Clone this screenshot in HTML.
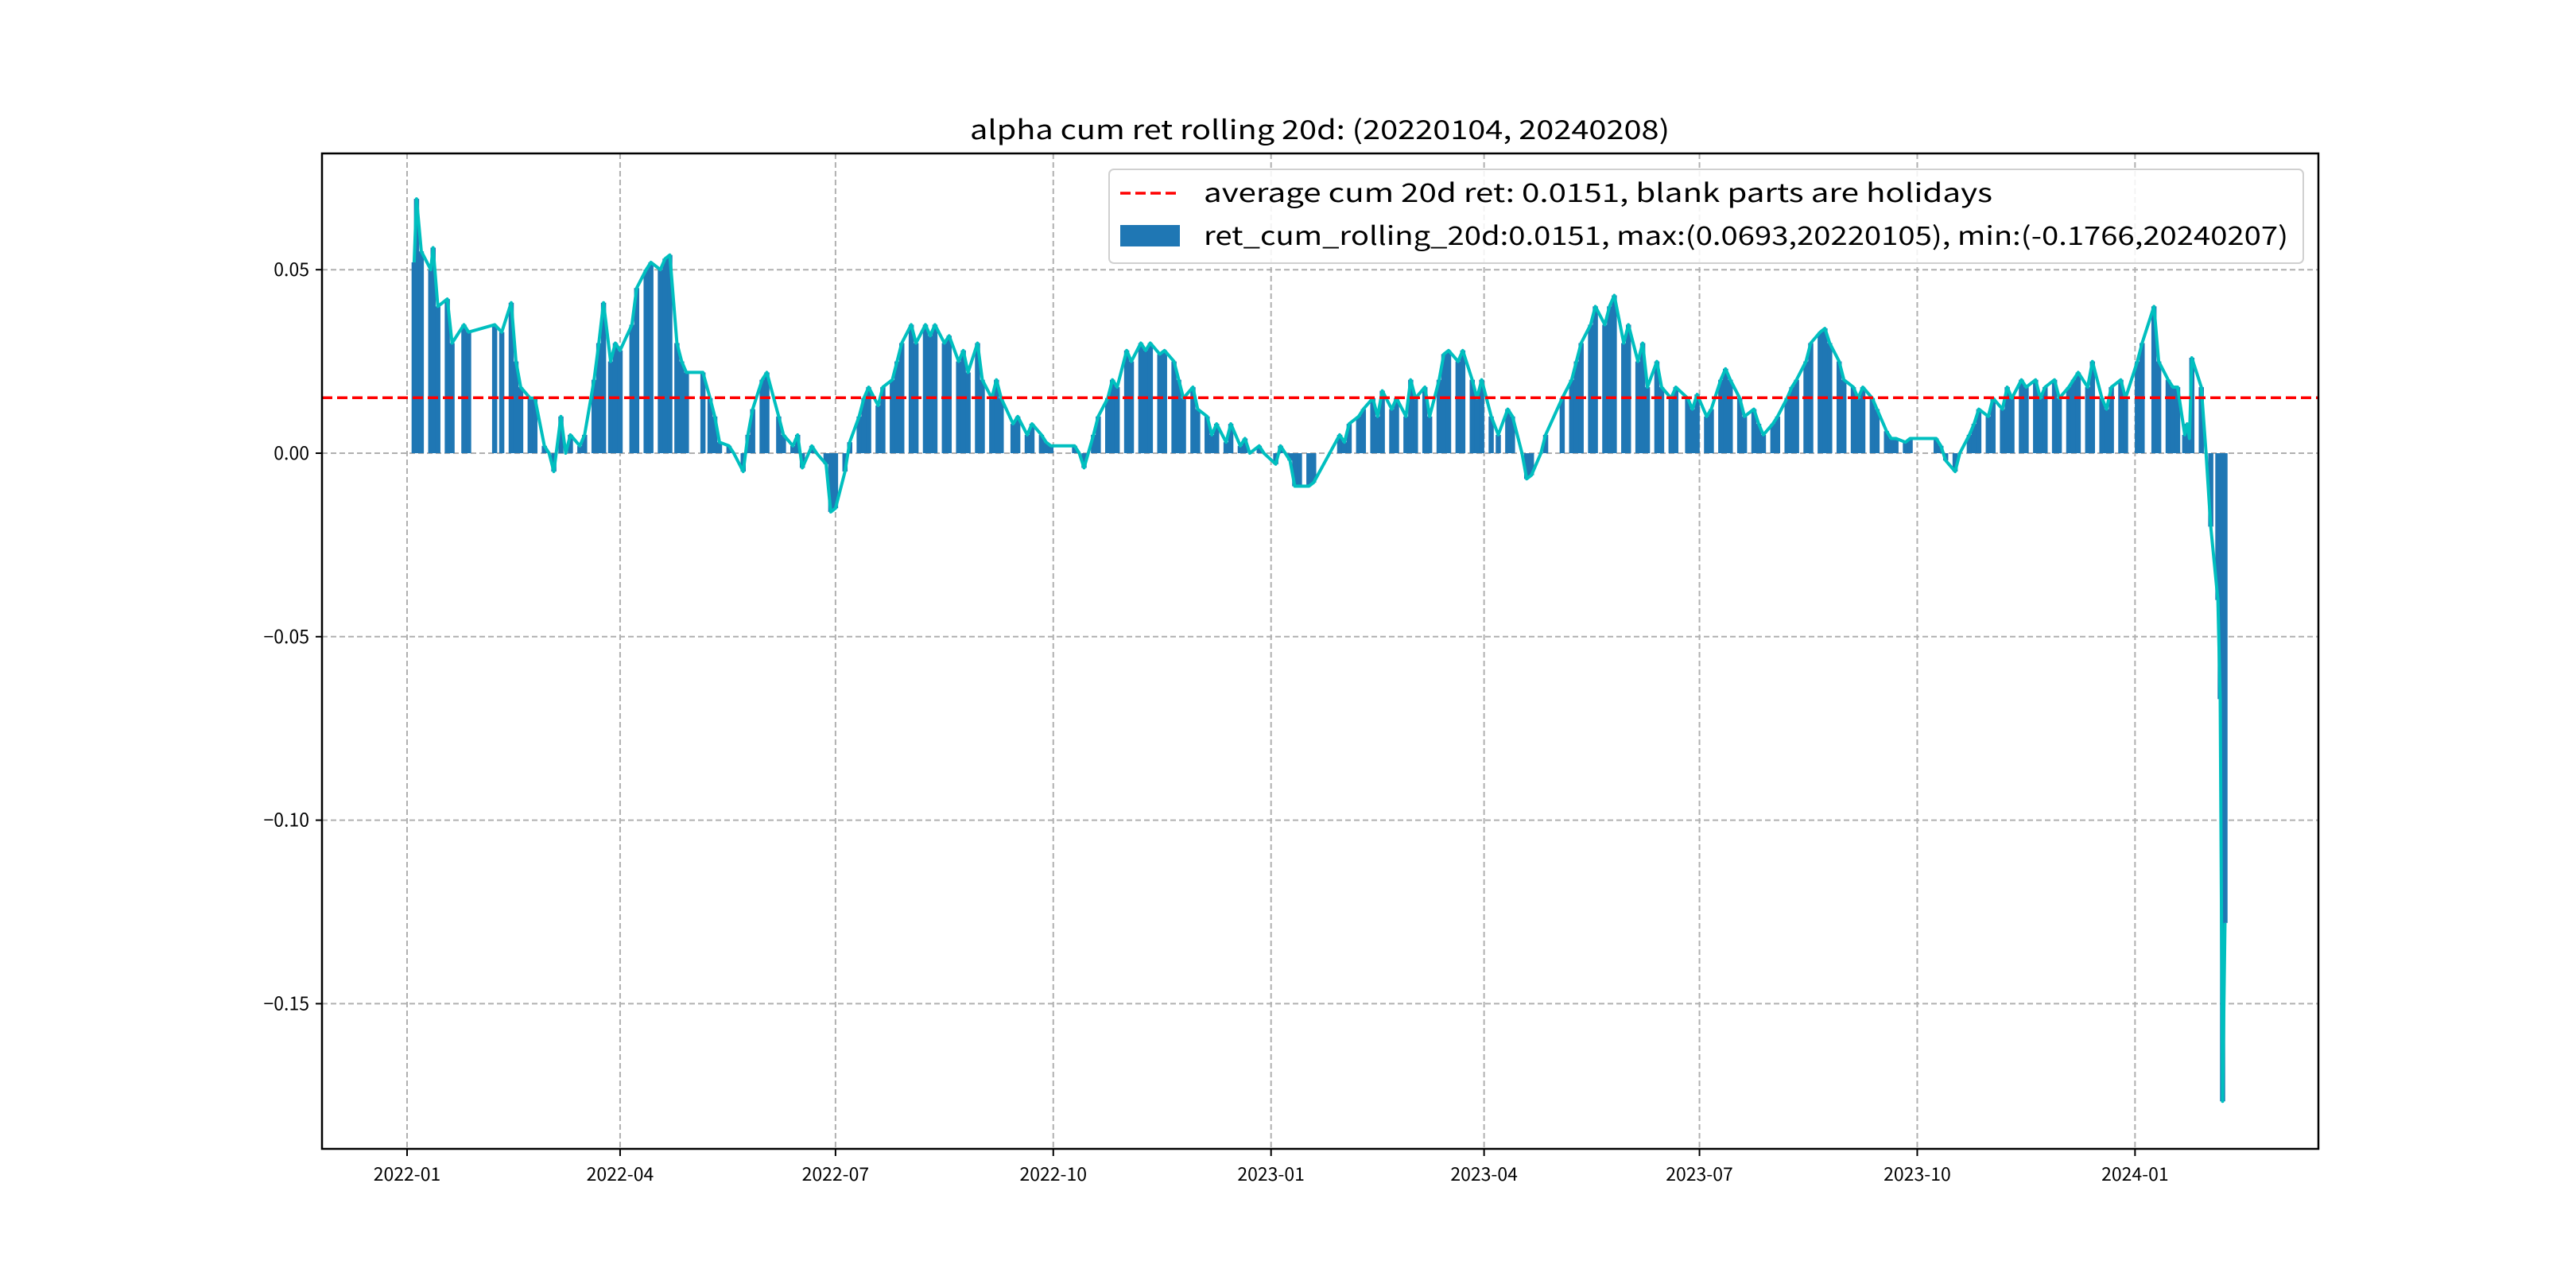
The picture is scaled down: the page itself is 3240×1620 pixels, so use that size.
<!DOCTYPE html>
<html><head><meta charset="utf-8"><style>
html,body{margin:0;padding:0;background:#fff}
svg{display:block}
text{font-family:"WenQuanYi Zen Hei","Noto Sans CJK SC","Liberation Sans",sans-serif;fill:#000}
</style></head><body>
<svg id="chart" width="3240" height="1620" viewBox="0 0 3240 1620" xmlns="http://www.w3.org/2000/svg">
<rect width="3240" height="1620" fill="#fff"/>
<text x="1220" y="175" font-size="33" textLength="880" lengthAdjust="spacingAndGlyphs">alpha cum ret rolling 20d: (20220104, 20240208)</text>
<g id="grid"></g>
<g id="bars"></g>
<g id="lines"></g>
<rect x="405" y="193" width="2511" height="1252" fill="none" stroke="#000" stroke-width="2.5"/>
<g id="ticks"></g>
<g>
<rect x="1395" y="213" width="1502" height="118" rx="6" fill="#fff" fill-opacity="0.85" stroke="#d0d0d0" stroke-width="2"/>
<line x1="1409" y1="243" x2="1484" y2="243" stroke="#ff0000" stroke-width="3.5" stroke-dasharray="13,6"/>
<text x="1514" y="254" font-size="32" textLength="992" lengthAdjust="spacingAndGlyphs">average cum 20d ret: 0.0151, blank parts are holidays</text>
<rect x="1409" y="283" width="75" height="27" fill="#1f77b4"/>
<text x="1514" y="308" font-size="32" textLength="1364" lengthAdjust="spacingAndGlyphs">ret_cum_rolling_20d:0.0151, max:(0.0693,20220105), min:(-0.1766,20240207)</text>
</g>
</svg>
<script>
const dates = ["2022-01-04","2022-01-05","2022-01-07","2022-01-11","2022-01-12","2022-01-14","2022-01-18","2022-01-20","2022-01-25","2022-01-27","2022-02-07","2022-02-10","2022-02-14","2022-02-16","2022-02-18","2022-02-22","2022-02-24","2022-02-28","2022-03-02","2022-03-04","2022-03-07","2022-03-09","2022-03-11","2022-03-15","2022-03-17","2022-03-21","2022-03-23","2022-03-25","2022-03-28","2022-03-30","2022-04-01","2022-04-06","2022-04-08","2022-04-12","2022-04-14","2022-04-18","2022-04-20","2022-04-22","2022-04-25","2022-04-27","2022-04-29","2022-05-06","2022-05-09","2022-05-11","2022-05-13","2022-05-17","2022-05-19","2022-05-23","2022-05-25","2022-05-27","2022-05-31","2022-06-02","2022-06-07","2022-06-09","2022-06-13","2022-06-15","2022-06-17","2022-06-21","2022-06-23","2022-06-27","2022-06-29","2022-07-01","2022-07-05","2022-07-07","2022-07-11","2022-07-13","2022-07-15","2022-07-19","2022-07-21","2022-07-25","2022-07-27","2022-07-29","2022-08-02","2022-08-04","2022-08-08","2022-08-10","2022-08-12","2022-08-16","2022-08-18","2022-08-22","2022-08-24","2022-08-26","2022-08-30","2022-09-01","2022-09-05","2022-09-07","2022-09-09","2022-09-14","2022-09-16","2022-09-20","2022-09-22","2022-09-26","2022-09-28","2022-09-30","2022-10-10","2022-10-12","2022-10-14","2022-10-18","2022-10-20","2022-10-24","2022-10-26","2022-10-28","2022-11-01","2022-11-03","2022-11-07","2022-11-09","2022-11-11","2022-11-15","2022-11-17","2022-11-21","2022-11-23","2022-11-25","2022-11-29","2022-12-01","2022-12-05","2022-12-07","2022-12-09","2022-12-13","2022-12-15","2022-12-19","2022-12-21","2022-12-23","2022-12-27","2022-12-29","2023-01-03","2023-01-05","2023-01-09","2023-01-11","2023-01-13","2023-01-17","2023-01-19","2023-01-30","2023-02-01","2023-02-03","2023-02-07","2023-02-09","2023-02-13","2023-02-15","2023-02-17","2023-02-21","2023-02-23","2023-02-27","2023-03-01","2023-03-03","2023-03-07","2023-03-09","2023-03-13","2023-03-15","2023-03-17","2023-03-21","2023-03-23","2023-03-27","2023-03-29","2023-03-31","2023-04-04","2023-04-07","2023-04-11","2023-04-13","2023-04-17","2023-04-19","2023-04-21","2023-04-25","2023-04-27","2023-05-04","2023-05-08","2023-05-10","2023-05-12","2023-05-16","2023-05-18","2023-05-22","2023-05-24","2023-05-26","2023-05-30","2023-06-01","2023-06-05","2023-06-07","2023-06-09","2023-06-13","2023-06-15","2023-06-19","2023-06-21","2023-06-26","2023-06-28","2023-06-30","2023-07-04","2023-07-06","2023-07-10","2023-07-12","2023-07-14","2023-07-18","2023-07-20","2023-07-24","2023-07-26","2023-07-28","2023-08-01","2023-08-03","2023-08-07","2023-08-09","2023-08-11","2023-08-15","2023-08-17","2023-08-21","2023-08-23","2023-08-25","2023-08-29","2023-08-31","2023-09-04","2023-09-06","2023-09-08","2023-09-12","2023-09-14","2023-09-18","2023-09-20","2023-09-22","2023-09-26","2023-09-28","2023-10-09","2023-10-11","2023-10-13","2023-10-17","2023-10-19","2023-10-23","2023-10-25","2023-10-27","2023-10-31","2023-11-02","2023-11-06","2023-11-08","2023-11-10","2023-11-14","2023-11-16","2023-11-20","2023-11-22","2023-11-24","2023-11-28","2023-11-30","2023-12-04","2023-12-06","2023-12-08","2023-12-12","2023-12-14","2023-12-18","2023-12-20","2023-12-22","2023-12-26","2023-12-28","2024-01-02","2024-01-04","2024-01-09","2024-01-11","2024-01-15","2024-01-17","2024-01-19","2024-01-22","2024-01-23","2024-01-24","2024-01-25","2024-01-29","2024-01-31","2024-02-02","2024-02-05","2024-02-06","2024-02-07","2024-02-08"];
const values = [0.052,0.0693,0.055,0.050,0.056,0.040,0.042,0.030,0.035,0.033,0.035,0.033,0.041,0.025,0.018,0.015,0.015,0.002,0.000,-0.005,0.010,0.000,0.005,0.002,0.005,0.020,0.030,0.041,0.025,0.030,0.028,0.035,0.045,0.050,0.052,0.050,0.053,0.054,0.030,0.025,0.022,0.022,0.015,0.010,0.003,0.002,0.000,-0.005,0.005,0.012,0.020,0.022,0.010,0.005,0.002,0.005,-0.004,0.002,0.000,-0.003,-0.016,-0.015,-0.005,0.003,0.010,0.015,0.018,0.013,0.018,0.020,0.025,0.030,0.035,0.030,0.035,0.032,0.035,0.030,0.032,0.025,0.028,0.022,0.030,0.020,0.015,0.020,0.015,0.008,0.010,0.005,0.008,0.005,0.003,0.002,0.002,0.000,-0.004,0.005,0.010,0.015,0.020,0.018,0.028,0.025,0.030,0.028,0.030,0.027,0.028,0.025,0.020,0.015,0.018,0.012,0.010,0.005,0.008,0.003,0.008,0.002,0.004,0.000,0.002,0.000,-0.003,0.002,-0.002,-0.009,-0.009,-0.009,-0.008,0.005,0.003,0.008,0.010,0.012,0.015,0.010,0.017,0.012,0.015,0.010,0.020,0.015,0.018,0.010,0.020,0.027,0.028,0.025,0.028,0.020,0.015,0.020,0.010,0.005,0.012,0.010,0.000,-0.007,-0.006,0.000,0.005,0.015,0.020,0.025,0.030,0.035,0.040,0.035,0.040,0.043,0.030,0.035,0.025,0.030,0.018,0.025,0.018,0.015,0.018,0.015,0.012,0.016,0.010,0.012,0.020,0.023,0.020,0.015,0.010,0.012,0.008,0.005,0.008,0.010,0.015,0.018,0.020,0.025,0.030,0.033,0.034,0.030,0.025,0.020,0.018,0.015,0.018,0.015,0.012,0.006,0.004,0.004,0.003,0.004,0.004,0.002,-0.002,-0.005,0.000,0.005,0.008,0.012,0.010,0.015,0.012,0.018,0.015,0.020,0.018,0.020,0.015,0.018,0.020,0.015,0.018,0.020,0.022,0.018,0.025,0.015,0.012,0.018,0.020,0.015,0.025,0.030,0.040,0.025,0.020,0.018,0.018,0.005,0.008,0.004,0.026,0.018,0.000,-0.020,-0.040,-0.067,-0.1766,-0.128];
const yTickValues = [0.05,0.00,-0.05,-0.10,-0.15];
const yTickLabels = ["0.05","0.00","\u22120.05","\u22120.10","\u22120.15"];
const xTickDates = ["2022-01-01","2022-04-01","2022-07-01","2022-10-01","2023-01-01","2023-04-01","2023-07-01","2023-10-01","2024-01-01"];
const xTickLabels = ["2022-01","2022-04","2022-07","2022-10","2023-01","2023-04","2023-07","2023-10","2024-01"];
const averageValue = 0.0151;

const NS = "http://www.w3.org/2000/svg";
const L = 405, R = 2916, T = 193, B = 1445;
const day0 = Date.UTC(2022,0,1);
function dayOf(s){const p=s.split("-");return (Date.UTC(+p[0],+p[1]-1,+p[2])-day0)/86400000;}
function xs(s){return 512 + dayOf(s)*2.9772;}
function ys(v){return 570 - v*4616;}
function mk(tag, attrs, parent){const e=document.createElementNS(NS,tag);for(const k in attrs)e.setAttribute(k,attrs[k]);parent.appendChild(e);return e;}
const grid = document.getElementById("grid"), bars = document.getElementById("bars"), lines = document.getElementById("lines"), ticks = document.getElementById("ticks");

yTickValues.forEach((v,i)=>{
  const y = ys(v);
  const g = mk("line",{x1:L,x2:R,y1:y,y2:y,stroke:"#b0b0b0","stroke-width":2,"stroke-dasharray":"7,4"},grid);
  
  
  const t = mk("line",{x1:L-8,x2:L,y1:y,y2:y,stroke:"#000","stroke-width":2},ticks);
  
  
  const lb = mk("text",{x:L-16,y:y+8,"font-size":23,"text-anchor":"end"},ticks);
  lb.textContent = yTickLabels[i];
  
  
});
xTickDates.forEach((d,i)=>{
  const x = xs(d);
  const g = mk("line",{x1:x,x2:x,y1:T,y2:B,stroke:"#b0b0b0","stroke-width":2,"stroke-dasharray":"7,4"},grid);
  
  
  const t = mk("line",{x1:x,x2:x,y1:B,y2:B+9,stroke:"#000","stroke-width":2},ticks);
  
  
  const lb = mk("text",{x:x,y:B+40,"font-size":23,"text-anchor":"middle"},ticks);
  lb.textContent = xTickLabels[i];
  
  
});
const bw = 6.5;
dates.forEach((d,i)=>{
  const x = xs(d), y0 = ys(0), y1 = ys(values[i]);
  const b = mk("rect",{x:x-bw/2,y:Math.min(y0,y1),width:bw,height:Math.abs(y1-y0),fill:"#1f77b4"},bars);
  
  
});
const pts = dates.map((d,i)=>xs(d).toFixed(1)+","+ys(values[i]).toFixed(1)).join(" ");
const pl = mk("polyline",{points:pts,fill:"none",stroke:"#00bfbf","stroke-width":4,"stroke-linejoin":"round"},lines);


const ay = ys(averageValue);
const al = mk("line",{x1:L,x2:R,y1:ay,y2:ay,stroke:"#ff0000","stroke-width":3.5,"stroke-dasharray":"13,6"},lines);


</script>
</body></html>
